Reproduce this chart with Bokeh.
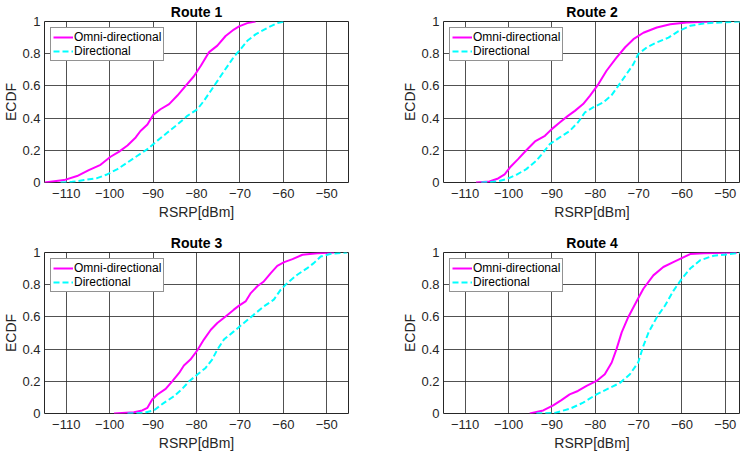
from bokeh.plotting import figure
from bokeh.layouts import gridplot
from bokeh.models import FixedTicker, Range1d, Legend, LegendItem
from bokeh.embed import file_html
from bokeh.resources import INLINE

titles = ["Route 1", "Route 2", "Route 3", "Route 4"]
x_ticks = [-110, -100, -90, -80, -70, -60, -50]
y_ticks = [0, 0.2, 0.4, 0.6, 0.8, 1.0]

# Route 1
r1_omni_x = [-115, -110.5, -107.5, -104.8, -102.1, -99.8, -97.9, -95.9, -94.0, -92.9, -91.3, -90.0, -88.3, -86.3, -84.4, -82.5, -80.6, -79.0, -77.1, -75.2, -73.3, -71.4, -70.2, -68.3, -66.4]
r1_omni_y = [0, 0.015, 0.04, 0.077, 0.11, 0.16, 0.19, 0.23, 0.28, 0.32, 0.36, 0.42, 0.455, 0.487, 0.54, 0.60, 0.66, 0.725, 0.81, 0.85, 0.91, 0.95, 0.97, 0.99, 1.0]
r1_dir_x = [-111.3, -108.6, -105.9, -102.9, -100.6, -98.2, -95.9, -93.6, -91.3, -89.0, -86.7, -84.4, -82.1, -79.8, -78.3, -76.7, -75.2, -73.7, -71.4, -69.8, -68.3, -66.4, -63.7, -61.4, -59.8]
r1_dir_y = [0, 0.004, 0.015, 0.027, 0.05, 0.083, 0.124, 0.166, 0.207, 0.26, 0.31, 0.36, 0.414, 0.455, 0.507, 0.57, 0.63, 0.69, 0.78, 0.83, 0.88, 0.92, 0.96, 0.99, 1.0]

# Route 2
r2_omni_x = [-107.5, -104.4, -102.4, -100.9, -99.7, -97.8, -95.9, -93.9, -91.6, -90.1, -88.2, -86.3, -84.7, -82.8, -81.2, -79.3, -77.4, -75.1, -73.1, -71.2, -68.9, -65.8, -62.7, -58.9, -52.7]
r2_omni_y = [0, 0.006, 0.025, 0.05, 0.093, 0.145, 0.2, 0.255, 0.29, 0.33, 0.373, 0.414, 0.445, 0.487, 0.54, 0.61, 0.694, 0.776, 0.84, 0.89, 0.93, 0.963, 0.983, 0.994, 1.0]
r2_dir_x = [-106.3, -102.8, -100.5, -98.2, -95.9, -93.6, -92.0, -90.5, -88.2, -85.9, -84.0, -82.4, -80.5, -78.2, -76.3, -74.7, -72.8, -71.2, -70.1, -68.1, -65.8, -63.1, -60.8, -58.1, -55.0, -51.2, -46.5, -45.0]
r2_dir_y = [0, 0.006, 0.02, 0.048, 0.083, 0.135, 0.186, 0.238, 0.28, 0.32, 0.373, 0.435, 0.466, 0.497, 0.54, 0.6, 0.673, 0.735, 0.797, 0.84, 0.87, 0.90, 0.94, 0.973, 0.988, 0.994, 1.0, 1.0]

# Route 3
r3_omni_x = [-99.0, -94.4, -92.5, -91.3, -90.2, -89.0, -87.1, -85.6, -84.0, -82.9, -81.4, -79.8, -78.3, -76.7, -75.2, -73.3, -71.4, -70.2, -68.7, -67.5, -66.0, -64.5, -62.9, -61.4, -59.8, -57.9, -55.6, -52.2, -48.3]
r3_omni_y = [0, 0.008, 0.019, 0.035, 0.087, 0.118, 0.153, 0.2, 0.252, 0.298, 0.335, 0.393, 0.459, 0.52, 0.562, 0.603, 0.645, 0.67, 0.696, 0.748, 0.79, 0.82, 0.872, 0.917, 0.94, 0.959, 0.986, 0.996, 1.0]
r3_dir_x = [-95.9, -92.1, -89.8, -87.5, -85.2, -83.3, -81.7, -79.8, -77.9, -76.4, -75.2, -73.7, -71.4, -69.1, -66.8, -64.5, -62.2, -60.6, -59.1, -56.8, -54.5, -53.0, -51.4, -49.1, -45.3]
r3_dir_y = [0, 0.004, 0.02, 0.066, 0.107, 0.153, 0.2, 0.242, 0.283, 0.335, 0.397, 0.459, 0.51, 0.562, 0.614, 0.665, 0.707, 0.769, 0.81, 0.862, 0.903, 0.934, 0.975, 0.992, 1.0]

# Route 4
r4_omni_x = [-95.1, -92.0, -89.7, -87.8, -85.9, -84.0, -82.0, -79.7, -77.8, -76.2, -75.1, -73.9, -72.4, -70.4, -68.9, -66.6, -64.3, -62.0, -59.7, -58.1, -55.0, -47.3]
r4_omni_y = [0, 0.019, 0.05, 0.083, 0.119, 0.14, 0.171, 0.202, 0.244, 0.317, 0.4, 0.504, 0.598, 0.7, 0.775, 0.858, 0.91, 0.94, 0.97, 0.99, 0.995, 1.0]
r4_dir_x = [-93.6, -89.3, -85.9, -82.8, -79.7, -76.6, -74.3, -72.0, -70.1, -68.9, -67.7, -65.8, -63.9, -61.9, -60.0, -58.1, -55.8, -52.7, -48.9, -46.5]
r4_dir_y = [0, 0.004, 0.029, 0.067, 0.119, 0.16, 0.19, 0.244, 0.317, 0.42, 0.504, 0.598, 0.671, 0.765, 0.838, 0.9, 0.952, 0.98, 0.99, 1.0]

omni = [(r1_omni_x, r1_omni_y), (r2_omni_x, r2_omni_y), (r3_omni_x, r3_omni_y), (r4_omni_x, r4_omni_y)]
direc = [(r1_dir_x, r1_dir_y), (r2_dir_x, r2_dir_y), (r3_dir_x, r3_dir_y), (r4_dir_x, r4_dir_y)]

# visible x extent (right column is cut at the picture's edge)
x_start = -115
x_end_left = -45
x_end_right = -46.5

FONT = "Liberation Sans"
TXT = "#262626"

def make(i):
    left = (i % 2 == 0)
    top = (i < 2)
    bl = 44
    br = 51 if left else 0
    bt = 21
    bb = 49 if top else 46
    pw = 304 if left else 297
    ph = 161
    p = figure(width=bl + pw + br, height=bt + ph + bb,
               output_backend="svg", toolbar_location=None,
               x_range=Range1d(x_start, x_end_left if left else x_end_right),
               y_range=Range1d(0, 1),
               min_border_left=bl, min_border_right=br,
               min_border_top=bt, min_border_bottom=bb,
               title=titles[i])
    p.title.align = "center"
    p.title.text_font = FONT
    p.title.text_font_size = "14px"
    p.title.text_font_style = "bold"
    p.title.text_color = "#000000"
    p.title.offset = 0
    p.title.standoff = 3
    p.outline_line_color = "#262626"
    p.outline_line_width = 1
    p.background_fill_color = "white"
    p.border_fill_color = "white"
    for g in (p.xgrid, p.ygrid):
        g.grid_line_color = "#262626"
        g.grid_line_alpha = 0.8
        g.grid_line_width = 1
    p.xaxis.ticker = FixedTicker(ticks=x_ticks)
    p.yaxis.ticker = FixedTicker(ticks=y_ticks)
    p.yaxis.major_label_overrides = {0: "0", 0.2: "0.2", 0.4: "0.4", 0.6: "0.6", 0.8: "0.8", 1: "1"}
    p.xaxis.axis_label = "RSRP[dBm]"
    p.yaxis.axis_label = "ECDF"
    for ax in (p.xaxis, p.yaxis):
        ax.axis_line_color = None
        ax.major_tick_line_color = None
        ax.minor_tick_line_color = None
        ax.major_tick_in = 0
        ax.major_tick_out = 0
        ax.minor_tick_in = 0
        ax.minor_tick_out = 0
        ax.major_label_text_font = FONT
        ax.major_label_text_font_size = "13px"
        ax.major_label_text_color = TXT
        ax.axis_label_text_font = FONT
        ax.axis_label_text_font_size = "14px"
        ax.axis_label_text_color = TXT
        ax.axis_label_text_font_style = "normal"
    p.xaxis.major_label_standoff = 6
    p.xaxis.axis_label_standoff = 3
    p.yaxis.major_label_standoff = 4
    p.yaxis.axis_label_standoff = 0

    ox, oy = omni[i]
    dx, dy = direc[i]
    r_o = p.line(ox, oy, line_color="#FF00FF", line_width=2)
    r_d = p.line(dx, dy, line_color="#00FFFF", line_width=2, line_dash="6 3")
    leg = Legend(items=[LegendItem(label="Omni-directional", renderers=[r_o]),
                        LegendItem(label="Directional", renderers=[r_d])],
                 location="top_left")
    leg.margin = 6
    leg.padding = 2
    leg.spacing = 0
    leg.glyph_width = 20
    leg.glyph_height = 14
    leg.label_height = 14
    leg.label_standoff = 1
    leg.label_text_font = FONT
    leg.label_text_font_size = "12px"
    leg.label_text_color = "#000000"
    leg.border_line_color = "#262626"
    leg.border_line_width = 1
    leg.background_fill_alpha = 1
    p.add_layout(leg)
    return p

plots = [make(i) for i in range(4)]
grid = gridplot([[plots[0], plots[1]], [plots[2], plots[3]]], toolbar_location=None)

open("out.html", "w").write(file_html(grid, INLINE))
